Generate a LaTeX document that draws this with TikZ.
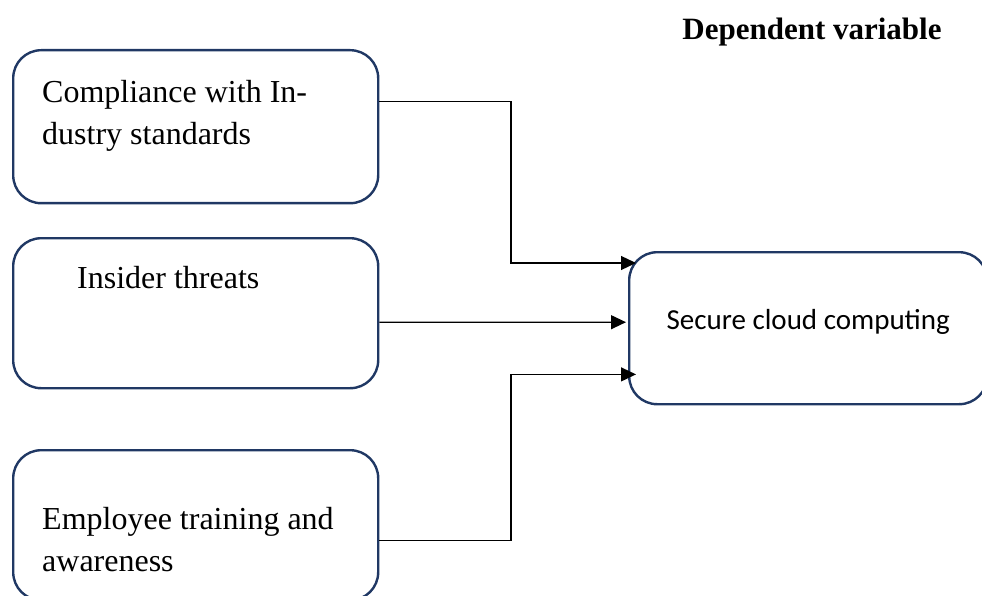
\documentclass[tikz,border=0pt]{standalone}
\usepackage{fontspec}
\setmainfont{Liberation Serif}
\newfontfamily\calibrifont{Carlito}
\usetikzlibrary{
	arrows.meta, positioning, calc
}
\definecolor{boxnavy}       {RGB}{ 32,  56,  100}
\definecolor{linkdark}      {RGB}{  0,   0,    0}

\begin{document}
\begin{tikzpicture}[x=1pt,y=-1pt,
	varbox/.style={draw=boxnavy, line width=2.4pt, rounded corners=28pt,
		minimum width=365pt, minimum height=153pt, anchor=north west},
	vartext/.style={anchor=west, align=left, inner sep=0pt,
		font=\fontsize{32}{42}\selectfont},
	link/.style={linkdark, line width=1.3pt, -{Triangle[length=15pt,width=14pt]}}]
				\useasboundingbox (0,0) rectangle (982,596);
				% independent variables
				\node[varbox] (compliance) at (12,49) {};
				\node[varbox, minimum height=150pt] (insider) at (12,237) {};
				\node[varbox, minimum height=150pt] (training) at (12,449) {};
				\node[vartext] (compliance-text) at (42,116) {Compliance with In-\\dustry standards};
				\node[vartext] (insider-text) at (77,278) {Insider threats};
				\node[vartext] (training-text) at (42,540) {Employee training and\\awareness};
				% dependent variable
				\node[varbox, minimum width=358pt, minimum height=152pt, text depth=17pt,
					font=\calibrifont\fontsize{29}{35}\selectfont] (secure) at (628,251) {Secure cloud computing};
				\node[font=\bfseries\fontsize{31}{36}\selectfont] (dependent) at (812,32) {Dependent variable};
				% connectors
				\coordinate (trunk) at (511,0);
				\coordinate (out1) at ($(compliance.north east)!0.34!(compliance.south east)$);
				\coordinate (out2) at ($(insider.north east)!0.56!(insider.south east)$);
				\coordinate (out3) at ($(training.north east)!0.6!(training.south east)$);
				\coordinate (in1) at ($(secure.north west)+(8,12)$);
				\coordinate (in2) at ($(secure.west)+(-2,-6)$);
				\coordinate (in3) at ($(secure.south west)+(8,-31)$);
				\draw[link] (out1) -| (trunk |- in1) -- (in1);
				\draw[link] (out2) -- (in2);
				\draw[link] (out3) -| (trunk |- in3) -- (in3);
			\end{tikzpicture}
\end{document}
